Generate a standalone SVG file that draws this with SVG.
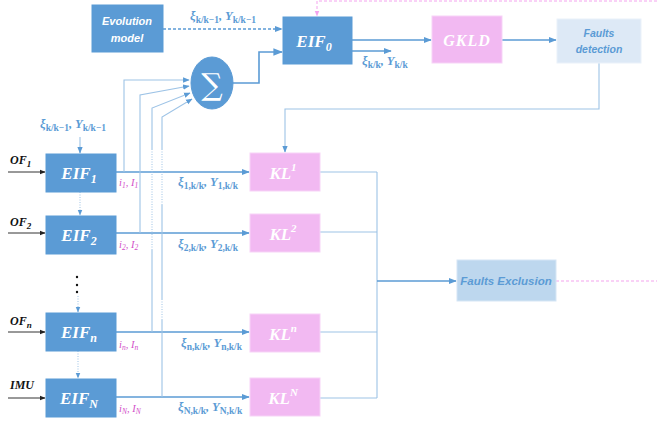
<svg xmlns="http://www.w3.org/2000/svg" width="657" height="425" viewBox="0 0 657 425">
<style>
.blue{fill:#5b9bd5;stroke:#5b9bd5;stroke-width:1}
.pink{fill:#f2b9f2;stroke:#f7d3f7;stroke-width:1}
.lt{fill:#dde9f6;stroke:#eaf1fa;stroke-width:1}
.ex{fill:#bdd7ee;stroke:#d6e6f5;stroke-width:1}
.wt{fill:#fff;font-family:"Liberation Serif",serif;font-style:italic;font-weight:bold;text-anchor:middle}
.st{fill:#fff;font-family:"Liberation Sans",sans-serif;font-style:italic;font-weight:bold;text-anchor:middle}
.lbl{fill:#5b9bd5;font-family:"Liberation Serif",serif;font-style:italic;font-weight:bold;font-size:12.5px}
.sb{font-style:normal;font-size:9.5px}
.mg{fill:#d24fc9;font-family:"Liberation Serif",serif;font-style:italic;font-size:10.5px}
.bk{fill:#111;font-family:"Liberation Serif",serif;font-style:italic;font-weight:bold;font-size:12px}
.main{stroke:#5b9bd5;stroke-width:1.6;fill:none}
.thin{stroke:#9dc3e6;stroke-width:1.1;fill:none}
.blk{stroke:#333;stroke-width:1;fill:none}
.pd{stroke:#f4a3ee;stroke-width:1;fill:none;stroke-dasharray:3 2}
.dot{stroke:#9dc3e6;stroke-width:1;fill:none;stroke-dasharray:1 1.5}
</style>
<defs>
<marker id="ab" viewBox="0 0 10 10" refX="9" refY="5" markerWidth="5" markerHeight="5" orient="auto"><path d="M0,1L10,5L0,9z" fill="#5b9bd5"/></marker>
<marker id="al" viewBox="0 0 10 10" refX="9" refY="5" markerWidth="6" markerHeight="6" orient="auto"><path d="M0,1L10,5L0,9z" fill="#5b9bd5"/></marker>
<marker id="ak" viewBox="0 0 10 10" refX="9" refY="5" markerWidth="6" markerHeight="6" orient="auto"><path d="M0,1L10,5L0,9z" fill="#222"/></marker>
<marker id="ap" viewBox="0 0 10 10" refX="9" refY="5" markerWidth="6" markerHeight="6" orient="auto"><path d="M0,1L10,5L0,9z" fill="#f4a3ee"/></marker>
</defs>

<g id="connectors">
<path class="main" d="M163,29H282" stroke-dasharray="3 2" marker-end="url(#ab)"/>
<path class="main" d="M233,83H259V52H282" stroke-width="1" marker-end="url(#al)"/>
<path class="main" d="M352,40H431" marker-end="url(#ab)"/>
<path class="main" d="M352,51H391" marker-end="url(#ab)"/>
<path class="main" d="M502,40H556" marker-end="url(#ab)"/>
<path class="thin" d="M599,63V109H285V152" marker-end="url(#al)"/>
<path class="pd" d="M657,1H317V16" marker-end="url(#ap)"/>
<path class="pd" d="M556,281H657"/>
<path class="thin" d="M80,137V153" marker-end="url(#al)"/>
<path class="dot" d="M80,192V215" stroke="#5b9bd5" marker-end="url(#al)"/>
<path class="dot" d="M78,296V312" stroke="#5b9bd5" marker-end="url(#al)"/>
<path class="dot" d="M78,351V378" stroke="#5b9bd5" marker-end="url(#al)"/>
<path class="blk" d="M8,172H45" marker-end="url(#ak)"/>
<path class="blk" d="M8,233H45" marker-end="url(#ak)"/>
<path class="blk" d="M8,332H45" marker-end="url(#ak)"/>
<path class="blk" d="M8,398H45" marker-end="url(#ak)"/>
<path class="main" d="M116,172H249" marker-end="url(#ab)"/>
<path class="main" d="M116,233H249" marker-end="url(#ab)"/>
<path class="main" d="M116,332H249" marker-end="url(#ab)"/>
<path class="main" d="M116,397H249" marker-end="url(#ab)"/>
<path class="thin" d="M124,172V80H189" marker-end="url(#al)"/>
<path class="thin" d="M140,233V95L189,86" marker-end="url(#al)"/>
<path class="thin" d="M152,332V250"/>
<path class="dot" d="M152,250V150"/>
<path class="thin" d="M152,150V108L190,93" marker-end="url(#al)"/>
<path class="thin" d="M162,397V320"/>
<path class="dot" d="M162,320V300"/>
<path class="thin" d="M162,300V205"/>
<path class="dot" d="M162,205V150"/>
<path class="thin" d="M162,150V117L192,99" marker-end="url(#al)"/>
<path class="thin" d="M320,172H377M320,232H377M320,332H377M320,398H377M377,172V398"/>
<path class="main" d="M377,281H456" marker-end="url(#ab)"/>
</g>

<g id="evolution"><rect class="blue" x="92" y="5" width="71" height="47"/><text class="st" font-size="11" x="127" y="25">Evolution</text><text class="st" font-size="11" x="127" y="42">model</text></g>
<g id="lbl-top"><text class="lbl" x="190" y="20">ξ<tspan class="sb" dy="3">k/k−1</tspan><tspan dy="-3">, Y</tspan><tspan class="sb" dy="3">k/k−1</tspan></text></g>
<g id="eif0"><rect class="blue" x="283" y="17" width="69" height="47"/><text class="wt" font-size="17" x="314" y="47">EIF<tspan font-size="12" dy="4">0</tspan></text></g>
<g id="sigma"><ellipse class="blue" cx="212" cy="83" rx="21" ry="26" stroke="#4a86c0"/><text x="212" y="95" fill="#fff" font-family="DejaVu Serif,serif" font-size="30" text-anchor="middle">∑</text></g>
<g id="lbl-eif0"><text class="lbl" x="362" y="65">ξ<tspan class="sb" dy="3">k/k</tspan><tspan dy="-3">, Y</tspan><tspan class="sb" dy="3">k/k</tspan></text></g>
<g id="gkld"><rect class="pink" x="432" y="16" width="70" height="47"/><text class="wt" font-size="16" x="467" y="46" letter-spacing="1">GKLD</text></g>
<g id="fdet"><rect class="lt" x="557" y="19" width="84" height="44"/><text class="st" font-size="10.5" x="599" y="37" style="fill:#5b9bd5">Faults</text><text class="st" font-size="10.5" x="599" y="53" style="fill:#5b9bd5">detection</text></g>
<g id="lbl-in"><text class="lbl" x="40" y="128">ξ<tspan class="sb" dy="3">k/k−1</tspan><tspan dy="-3">, Y</tspan><tspan class="sb" dy="3">k/k−1</tspan></text></g>

<g id="of-labels">
<text class="bk" x="10" y="164">OF<tspan font-size="9" dy="3">1</tspan></text>
<text class="bk" x="10" y="226">OF<tspan font-size="9" dy="3">2</tspan></text>
<text class="bk" x="10" y="325">OF<tspan font-size="9" dy="3">n</tspan></text>
<text class="bk" x="10" y="389">IMU</text>
</g>

<g id="eif1"><rect class="blue" x="46" y="154" width="70" height="38"/><text class="wt" font-size="17" x="79" y="179">EIF<tspan font-size="12" dy="4">1</tspan></text></g>
<g id="eif2"><rect class="blue" x="46" y="216" width="70" height="38"/><text class="wt" font-size="17" x="79" y="241">EIF<tspan font-size="12" dy="4">2</tspan></text></g>
<g id="vdots"><circle cx="77" cy="277" r="1.2" fill="#111"/><circle cx="77" cy="285" r="1.2" fill="#111"/><circle cx="77" cy="292" r="1.2" fill="#111"/></g>
<g id="eifn"><rect class="blue" x="46" y="313" width="70" height="38"/><text class="wt" font-size="17" x="79" y="338">EIF<tspan font-size="12" dy="4">n</tspan></text></g>
<g id="eifN"><rect class="blue" x="46" y="379" width="70" height="38"/><text class="wt" font-size="17" x="79" y="404">EIF<tspan font-size="12" dy="4">N</tspan></text></g>

<g id="i-labels">
<text class="mg" x="119" y="186">i<tspan font-size="7.5" dy="2">1</tspan><tspan dy="-2">, I</tspan><tspan font-size="7.5" dy="2">1</tspan></text>
<text class="mg" x="119" y="248">i<tspan font-size="7.5" dy="2">2</tspan><tspan dy="-2">, I</tspan><tspan font-size="7.5" dy="2">2</tspan></text>
<text class="mg" x="119" y="348">i<tspan font-size="7.5" dy="2">n</tspan><tspan dy="-2">, I</tspan><tspan font-size="7.5" dy="2">n</tspan></text>
<text class="mg" x="119" y="412">i<tspan font-size="7.5" dy="2">N</tspan><tspan dy="-2">, I</tspan><tspan font-size="7.5" dy="2">N</tspan></text>
</g>
<g id="xi-labels">
<text class="lbl" x="178" y="186">ξ<tspan class="sb" dy="3">1,k/k</tspan><tspan dy="-3">, Y</tspan><tspan class="sb" dy="3">1,k/k</tspan></text>
<text class="lbl" x="178" y="248">ξ<tspan class="sb" dy="3">2,k/k</tspan><tspan dy="-3">, Y</tspan><tspan class="sb" dy="3">2,k/k</tspan></text>
<text class="lbl" x="181" y="347">ξ<tspan class="sb" dy="3">n,k/k</tspan><tspan dy="-3">, Y</tspan><tspan class="sb" dy="3">n,k/k</tspan></text>
<text class="lbl" x="178" y="411">ξ<tspan class="sb" dy="3">N,k/k</tspan><tspan dy="-3">, Y</tspan><tspan class="sb" dy="3">N,k/k</tspan></text>
</g>

<g id="kl1"><rect class="pink" x="250" y="153" width="70" height="38"/><text class="wt" font-size="17" x="283" y="179">KL<tspan font-size="11" dy="-8">1</tspan></text></g>
<g id="kl2"><rect class="pink" x="250" y="214" width="70" height="38"/><text class="wt" font-size="17" x="283" y="240">KL<tspan font-size="11" dy="-8">2</tspan></text></g>
<g id="kln"><rect class="pink" x="250" y="314" width="70" height="38"/><text class="wt" font-size="17" x="283" y="340">KL<tspan font-size="11" dy="-8">n</tspan></text></g>
<g id="klN"><rect class="pink" x="250" y="378" width="70" height="38"/><text class="wt" font-size="17" x="283" y="404">KL<tspan font-size="11" dy="-8">N</tspan></text></g>

<g id="fexcl"><rect class="ex" x="457" y="260" width="99" height="41"/><text class="st" font-size="11.5" x="506" y="285" style="fill:#5b9bd5">Faults Exclusion</text></g>
</svg>
